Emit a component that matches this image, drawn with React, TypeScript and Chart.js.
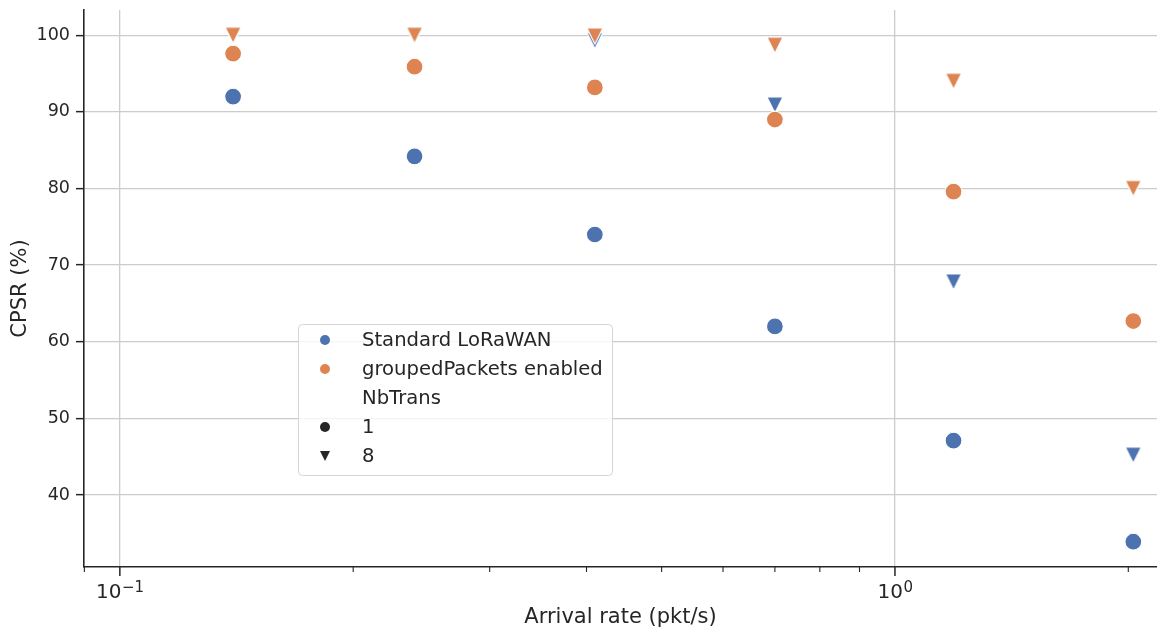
import React, { useEffect, useRef } from 'react';
import { Chart, registerables } from 'chart.js';

Chart.register(...registerables);

// ---- data ----
const arrivalRates = [0.14, 0.24, 0.41, 0.7, 1.19, 2.03];
const standardNb1 = [92.0, 84.2, 74.0, 62.0, 47.1, 33.9];
const standardNb8 = [100.0, 100.0, 99.3, 90.9, 67.8, 45.2];
const groupedNb1 = [97.6, 95.9, 93.2, 89.0, 79.6, 62.7];
const groupedNb8 = [100.0, 100.0, 99.9, 98.7, 94.0, 80.0];

const xTickValues = [0.09, 0.1, 0.2, 0.3, 0.4, 0.5, 0.6, 0.7, 0.8, 0.9, 1, 2];
const xMajorTicks = [0.1, 1];
const xMajorBases = ['10', '10'];
const xMajorExponents = ['−1', '0'];
const yTickValues = [40, 50, 60, 70, 80, 90, 100];

const seriesNames = ['Standard LoRaWAN', 'groupedPackets enabled'];
const styleTitle = 'NbTrans';
const styleNames = ['1', '8'];

const xAxisTitle = 'Arrival rate (pkt/s)';
const yAxisTitle = 'CPSR (%)';

// ---- styles ----
const BLUE = '#4c72b0';
const ORANGE = '#dd8452';
const INK = '#262626';
const GRID = '#cccccc';
const FONT = 'DejaVu Sans';

function makeTriangle(color: string, size: number, edge: number): HTMLCanvasElement {
  const c = document.createElement('canvas');
  const pad = 4;
  const w = Math.round(size + pad * 2);
  c.width = w;
  c.height = w;
  const ctx = c.getContext('2d')!;
  const o = (w - size) / 2;
  ctx.beginPath();
  ctx.moveTo(o, o);
  ctx.lineTo(o + size, o);
  ctx.lineTo(o + size / 2, o + size);
  ctx.closePath();
  ctx.fillStyle = color;
  ctx.fill();
  if (edge > 0) {
    ctx.lineWidth = edge;
    ctx.strokeStyle = '#ffffff';
    ctx.lineJoin = 'miter';
    ctx.stroke();
  }
  return c;
}

function drawTri(ctx: CanvasRenderingContext2D, x: number, y: number, size: number, color: string) {
  ctx.beginPath();
  ctx.moveTo(x - size / 2, y - size / 2);
  ctx.lineTo(x + size / 2, y - size / 2);
  ctx.lineTo(x, y + size / 2);
  ctx.closePath();
  ctx.fillStyle = color;
  ctx.fill();
}

const decorPlugin = {
  id: 'xTicksAndLegend',
  afterDraw(chart: any) {
    const ctx: CanvasRenderingContext2D = chart.ctx;
    const xs = chart.scales.x;
    const bottom = chart.chartArea.bottom;
    ctx.save();
    ctx.strokeStyle = INK;
    xTickValues.forEach((v) => {
      const px = xs.getPixelForValue(v);
      const major = xMajorTicks.includes(v);
      ctx.lineWidth = major ? 1.5 : 1.1;
      ctx.beginPath();
      ctx.moveTo(px, bottom);
      ctx.lineTo(px, bottom + (major ? 9 : 5));
      ctx.stroke();
    });

    // major tick labels: base + superscript exponent
    ctx.fillStyle = INK;
    ctx.textBaseline = 'alphabetic';
    ctx.textAlign = 'left';
    xMajorTicks.forEach((v, i) => {
      const px = xs.getPixelForValue(v);
      ctx.font = `20px "${FONT}"`;
      const bw = ctx.measureText(xMajorBases[i]).width;
      ctx.font = `15px "${FONT}"`;
      const ew = ctx.measureText(xMajorExponents[i]).width;
      const start = px - (bw + ew) / 2;
      const baseY = bottom + 31;
      ctx.font = `20px "${FONT}"`;
      ctx.fillText(xMajorBases[i], start, baseY);
      ctx.font = `15px "${FONT}"`;
      ctx.fillText(xMajorExponents[i], start + bw + 0.5, baseY - 6.5);
    });

    // legend
    const lx = 298.5, ly = 324.5, lw = 314, lh = 151, r = 4;
    ctx.beginPath();
    ctx.moveTo(lx + r, ly);
    ctx.lineTo(lx + lw - r, ly);
    ctx.quadraticCurveTo(lx + lw, ly, lx + lw, ly + r);
    ctx.lineTo(lx + lw, ly + lh - r);
    ctx.quadraticCurveTo(lx + lw, ly + lh, lx + lw - r, ly + lh);
    ctx.lineTo(lx + r, ly + lh);
    ctx.quadraticCurveTo(lx, ly + lh, lx, ly + lh - r);
    ctx.lineTo(lx, ly + r);
    ctx.quadraticCurveTo(lx, ly, lx + r, ly);
    ctx.closePath();
    ctx.fillStyle = 'rgba(255,255,255,0.8)';
    ctx.fill();
    ctx.lineWidth = 1;
    ctx.strokeStyle = '#d5d5d5';
    ctx.stroke();

    const rows = [seriesNames[0], seriesNames[1], styleTitle, styleNames[0], styleNames[1]];
    const mx = 325, tx = 362, y0 = 340, dy = 29;
    ctx.font = `19.6px "${FONT}"`;
    ctx.textBaseline = 'middle';
    ctx.textAlign = 'left';
    rows.forEach((t, i) => {
      const y = y0 + i * dy;
      if (i === 0 || i === 1 || i === 3) {
        ctx.beginPath();
        ctx.arc(mx, y, 5, 0, Math.PI * 2);
        ctx.fillStyle = i === 0 ? BLUE : i === 1 ? ORANGE : INK;
        ctx.fill();
      } else if (i === 4) {
        drawTri(ctx, mx, y, 10, INK);
      }
      ctx.fillStyle = INK;
      ctx.fillText(t, tx, y + 1);
    });
    ctx.restore();
  },
};

export default function App() {
  const ref = useRef<HTMLCanvasElement | null>(null);

  useEffect(() => {
    if (!ref.current) return;
    Chart.defaults.font.family = FONT;
    const triBlue = makeTriangle(BLUE, 16, 1.2);
    const triOrange = makeTriangle(ORANGE, 16, 1.2);
    const toPts = (ys: number[]) => arrivalRates.map((x, i) => ({ x, y: ys[i] }));

    const circle = (color: string) => ({
      pointStyle: 'circle' as const,
      pointRadius: 8.4,
      pointBackgroundColor: color,
      pointBorderColor: '#ffffff',
      pointBorderWidth: 1.1,
      showLine: false,
    });
    const tri = (img: HTMLCanvasElement) => ({
      pointStyle: img as any,
      pointRadius: 8,
      showLine: false,
    });

    const chart = new Chart(ref.current, {
      type: 'scatter',
      data: {
        datasets: [
          { label: seriesNames[0] + ' / ' + styleNames[0], data: toPts(standardNb1), order: 4, ...circle(BLUE) },
          { label: seriesNames[0] + ' / ' + styleNames[1], data: toPts(standardNb8), order: 3, ...tri(triBlue) },
          { label: seriesNames[1] + ' / ' + styleNames[0], data: toPts(groupedNb1), order: 2, ...circle(ORANGE) },
          { label: seriesNames[1] + ' / ' + styleNames[1], data: toPts(groupedNb8), order: 1, ...tri(triOrange) },
        ],
      },
      options: {
        animation: false,
        responsive: false,
        devicePixelRatio: 1,
        events: [],
        layout: { autoPadding: false, padding: { top: 10, left: 0, right: 0, bottom: 0 } },
        plugins: { legend: { display: false }, tooltip: { enabled: false } },
        scales: {
          x: {
            type: 'logarithmic',
            min: 0.0899,
            max: 2.178,
            afterBuildTicks: (s: any) => {
              s.ticks = xTickValues.map((v) => ({ value: v, major: xMajorTicks.includes(v) }));
            },
            afterFit: (s: any) => {
              s.height = 63;
              s.paddingLeft = 0;
              s.paddingRight = 0;
            },
            ticks: {
              autoSkip: false,
              maxRotation: 0,
              minRotation: 0,
              padding: 11,
              color: INK,
              font: { size: 20, family: FONT },
              callback: () => '',
            },
            grid: {
              drawTicks: false,
              lineWidth: 1.3,
              color: (c: any) => (c.tick && xMajorTicks.includes(c.tick.value) ? GRID : 'rgba(0,0,0,0)'),
            },
            border: { display: true, color: INK, width: 1.6 },
            title: {
              display: true,
              text: xAxisTitle,
              color: INK,
              font: { size: 21, family: FONT },
              padding: { top: 0, bottom: 0 },
            },
          },
          y: {
            type: 'linear',
            min: 30.6,
            max: 103.3,
            afterBuildTicks: (s: any) => {
              s.ticks = yTickValues.map((v) => ({ value: v }));
            },
            afterFit: (s: any) => {
              s.width = 84;
              s.paddingTop = 0;
              s.paddingBottom = 0;
            },
            ticks: {
              padding: 6,
              color: INK,
              font: { size: 17.5, family: FONT },
              callback: (v: any) => String(v),
            },
            grid: {
              color: GRID,
              lineWidth: 1.3,
              drawTicks: true,
              tickLength: 8,
              tickColor: INK,
              tickWidth: 1.5,
            },
            border: { display: true, color: INK, width: 1.6 },
            title: {
              display: true,
              text: yAxisTitle,
              color: INK,
              font: { size: 21, family: FONT },
              padding: { top: 8, bottom: 0 },
            },
          },
        },
      },
      plugins: [decorPlugin],
    });
    return () => chart.destroy();
  }, []);

  return (
    <div style={{ position: 'absolute', left: 0, top: 0, width: 1157, height: 630 }}>
      <canvas ref={ref} width={1157} height={630} style={{ display: 'block', width: 1157, height: 630 }} />
    </div>
  );
}
